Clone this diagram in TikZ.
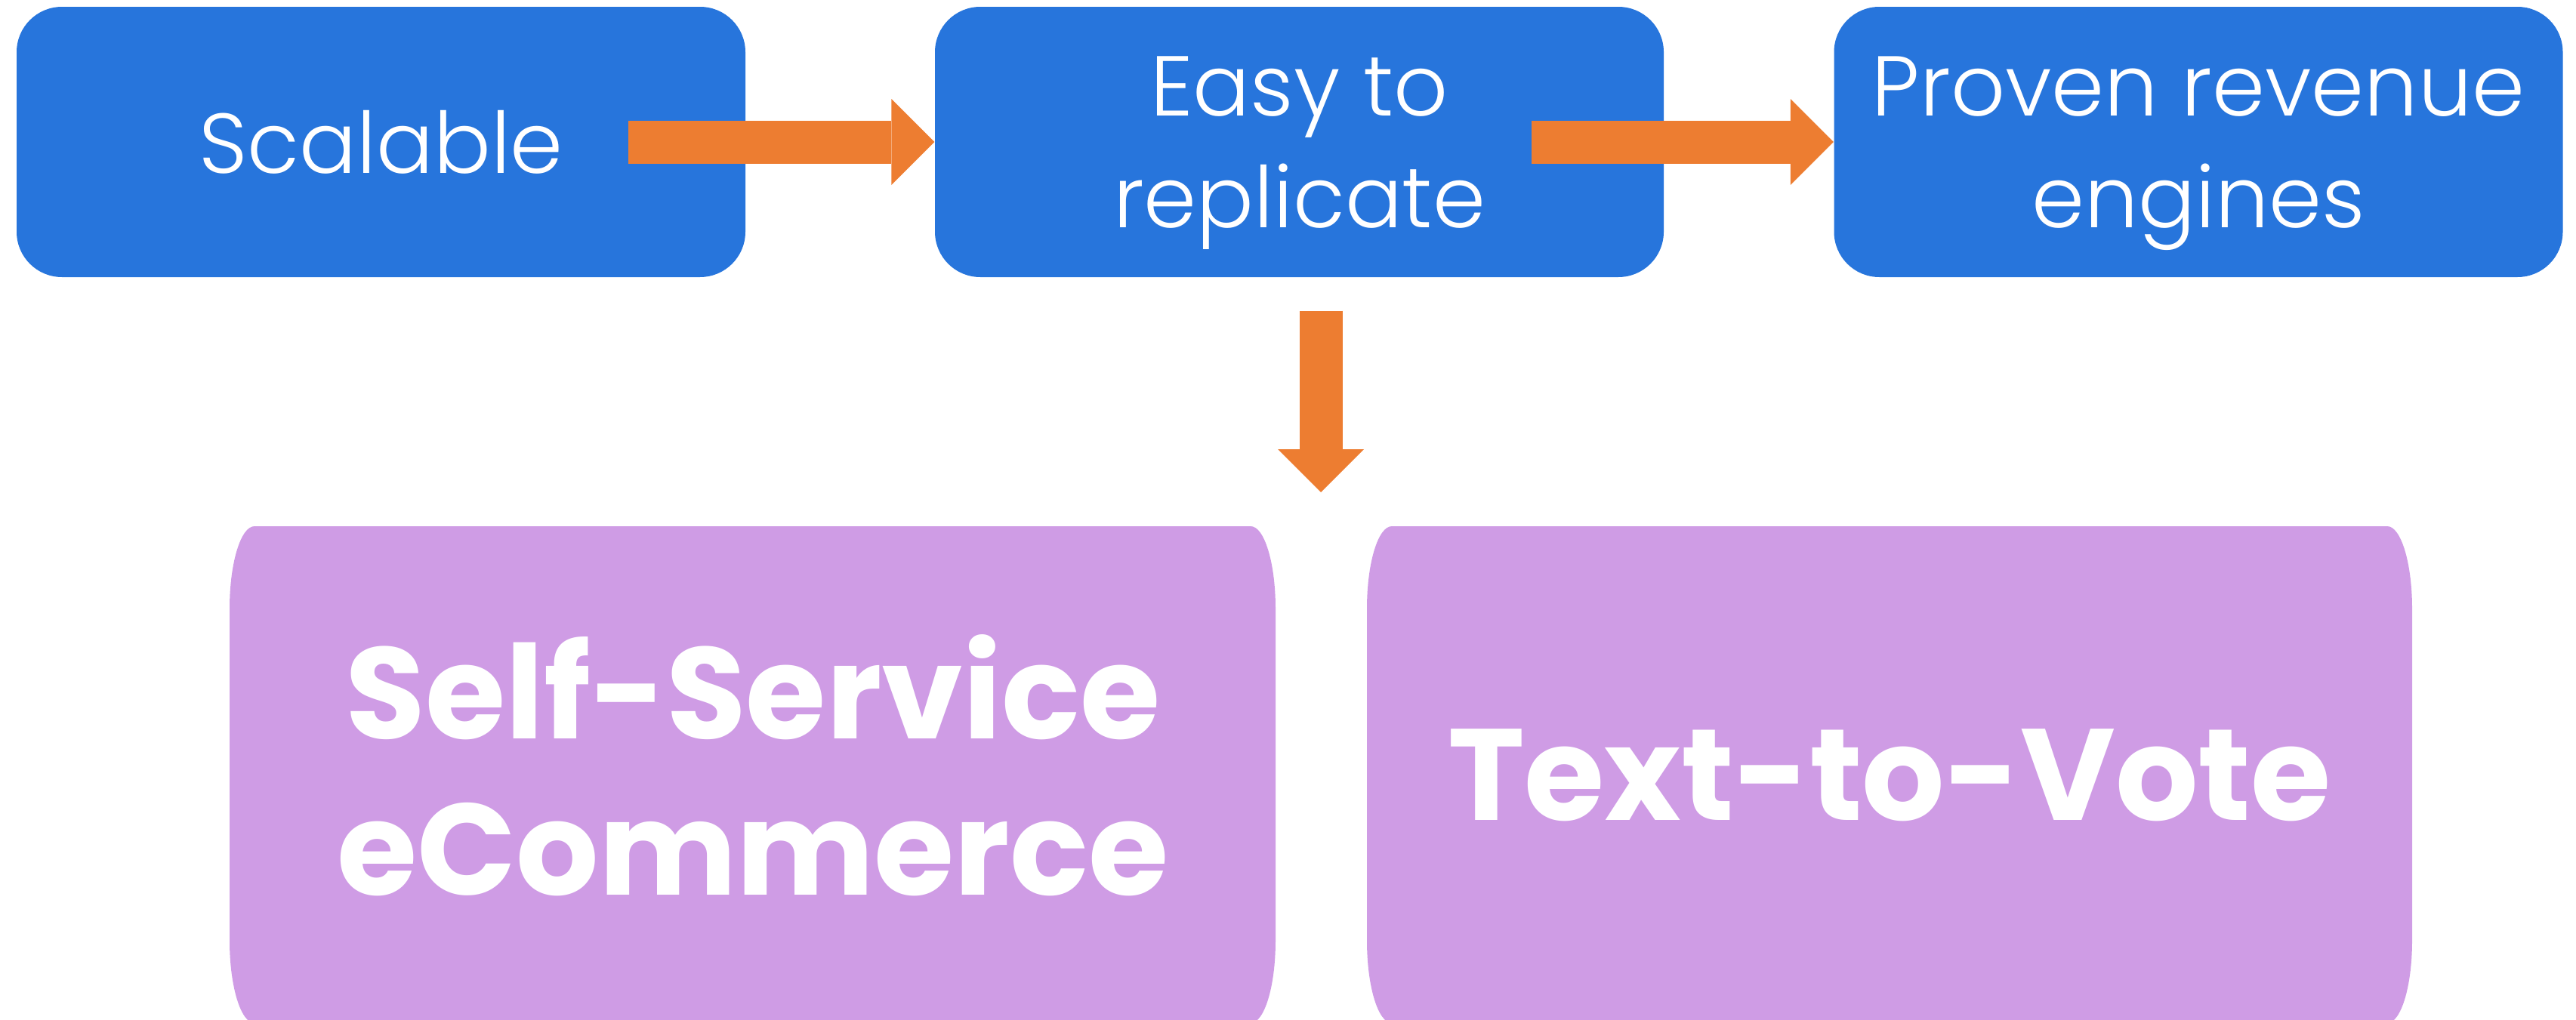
\documentclass[tikz,border=0pt]{standalone}
\usepackage{fontspec}
\setmainfont{Poppins}[UprightFont=* Light, BoldFont=* Bold]
\usetikzlibrary{arrows.meta,positioning}
\usepackage{xcolor}

\definecolor{boxblue}{HTML}{2775DC}
\definecolor{arroworange}{HTML}{ED7D31}
\definecolor{boxpurple}{HTML}{CF9CE5}

\begin{document}
\begin{tikzpicture}[
    topbox/.style={fill=boxblue, rounded corners=0.6cm, minimum width=9.65cm,
        minimum height=3.58cm, inner sep=0pt, text=white, align=center,
        text depth=0pt, font=\fontsize{32}{42}\selectfont},
    bottomtext/.style={text=white, align=center, inner sep=0pt,
        font=\fontsize{49}{59}\selectfont\bfseries},
    fatarrow/.style={arroworange, line width=0.57cm,
        -{Triangle[length=0.57cm, width=1.14cm, line width=0pt]}}
]
    \useasboundingbox (0,0) rectangle (34.11,-13.51);
    \clip (0,0) rectangle (34.11,-13.51);

    % purple boxes, corners are stretched
    \def\rx{0.33}
    \def\ry{1.09}
    \def\purplebox#1#2#3#4{%
        \fill[boxpurple] (#1+\rx,#2) -- (#3-\rx,#2)
            arc[start angle=90, end angle=0, x radius=\rx, y radius=\ry]
            -- (#3,#4+\ry) arc[start angle=0, end angle=-90, x radius=\rx, y radius=\ry]
            -- (#1+\rx,#4) arc[start angle=270, end angle=180, x radius=\rx, y radius=\ry]
            -- (#1,#2-\ry) arc[start angle=180, end angle=90, x radius=\rx, y radius=\ry]
            -- cycle;}

    \purplebox{3.04}{-6.97}{16.89}{-13.55}
    \purplebox{18.10}{-6.97}{31.94}{-13.55}

    \node[topbox] (scalable) at (5.045,-1.88) {Scalable};
    \node[topbox] (easy) at (17.205,-1.88) {Easy to\\replicate};
    \node[topbox] (proven) at (29.11,-1.88) {Proven revenue\\engines};

    \node[bottomtext] (selfservice) at (9.97,-10.14) {Self-Service\\eCommerce};
    \node[bottomtext] (textvote) at (25.02,-10.27) {Text-to-Vote};

    \coordinate (gap) at (17.49,-6.52);

    \draw[fatarrow] ([xshift=-1.56cm]scalable.east) -- (easy.west);
    \draw[fatarrow] ([xshift=-1.76cm]easy.east) -- (proven.west);
    \draw[fatarrow] ([xshift=0.285cm,yshift=-0.44cm]easy.south) -- (gap);
\end{tikzpicture}
\end{document}
